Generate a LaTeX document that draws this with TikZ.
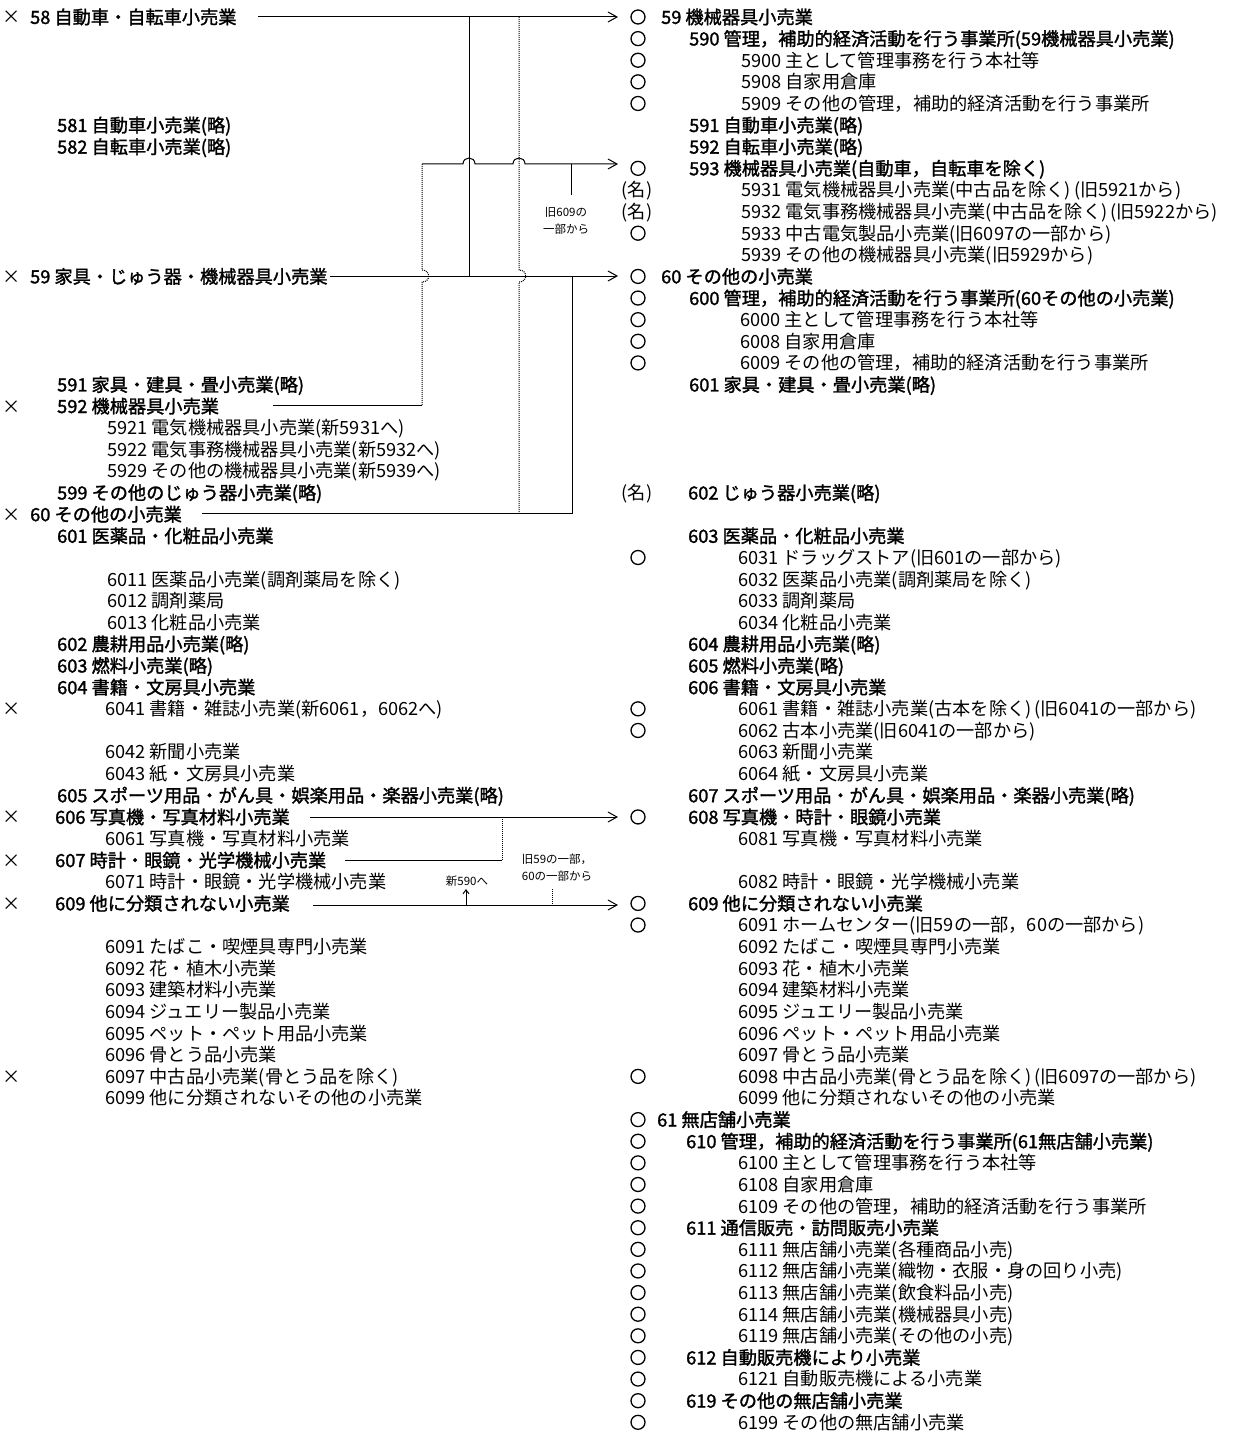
\documentclass[tikz,border=0pt]{standalone}
\usepackage{fontspec}
\setmainfont{Noto Sans CJK JP}
\newfontfamily\cjkbold{Noto Sans CJK JP}[FakeBold=1.6]
\usetikzlibrary{arrows.meta}
\newcommand\fsz{\fontsize{18.2pt}{22pt}\selectfont}
\newcommand\fsm{\fontsize{11.5pt}{13pt}\selectfont}
\newcommand\RT[5]{\node[#1] (#2) at (#3,{17+21.62*(#4)}) {#5};}
\newcommand\MC[2]{\node[mkc] (#1) at (638,{17+21.62*(#2)}) {};}
\newcommand\MN[2]{\node[mkn] (#1) at (637,{17+21.62*(#2)}) {(名)};}
\newcommand\MX[2]{\node[mkn] (#1) at (12,{17+21.62*(#2)}) {×};}
\tikzset{
 tx/.style={anchor=west, inner sep=0pt, font=\fsz, text height=16pt, text depth=2.2pt},
 hb/.style={tx, font=\fsz\cjkbold},
 mkc/.style={circle, draw, line width=1.3pt, minimum size=14pt, inner sep=0pt},
 mkn/.style={inner sep=0pt, font=\fsz, text height=16pt, text depth=2.2pt},
 sm/.style={inner sep=0pt, font=\fsm},
 ln/.style={line width=1pt},
 dl/.style={line width=1pt, densely dotted},
 arr/.style={-{Straight Barb[length=9pt,width=10pt]}},
}
\begin{document}
\begin{tikzpicture}[x=1pt,y=-1pt]
\useasboundingbox (0,0) rectangle (1244,1439);
% ---------- left column (old) ----------
\MX{x58}{0}\RT{hb}{L58}{30}{0}{58 自動車・自転車小売業}
\RT{hb}{L581}{57}{5}{581 自動車小売業(略)}
\RT{hb}{L582}{57}{6}{582 自転車小売業(略)}
\MX{x59}{12}\RT{hb}{L59}{30}{12}{59 家具・じゅう器・機械器具小売業}
\RT{hb}{L591}{57}{17}{591 家具・建具・畳小売業(略)}
\MX{x592}{18}\RT{hb}{L592}{57}{18}{592 機械器具小売業}
\RT{tx}{L5921}{107}{19}{5921 電気機械器具小売業(新5931へ)}
\RT{tx}{L5922}{107}{20}{5922 電気事務機械器具小売業(新5932へ)}
\RT{tx}{L5929}{107}{21}{5929 その他の機械器具小売業(新5939へ)}
\RT{hb}{L599}{57}{22}{599 その他のじゅう器小売業(略)}
\MX{x60}{23}\RT{hb}{L60}{30}{23}{60 その他の小売業}
\RT{hb}{L601}{57}{24}{601 医薬品・化粧品小売業}
\RT{tx}{L6011}{107}{26}{6011 医薬品小売業(調剤薬局を除く)}
\RT{tx}{L6012}{107}{27}{6012 調剤薬局}
\RT{tx}{L6013}{107}{28}{6013 化粧品小売業}
\RT{hb}{L602}{57}{29}{602 農耕用品小売業(略)}
\RT{hb}{L603}{57}{30}{603 燃料小売業(略)}
\RT{hb}{L604}{57}{31}{604 書籍・文房具小売業}
\MX{x6041}{32}\RT{tx}{L6041}{105}{32}{6041 書籍・雑誌小売業(新6061，6062へ)}
\RT{tx}{L6042}{105}{34}{6042 新聞小売業}
\RT{tx}{L6043}{105}{35}{6043 紙・文房具小売業}
\RT{hb}{L605}{57}{36}{605 スポーツ用品・がん具・娯楽用品・楽器小売業(略)}
\MX{x606}{37}\RT{hb}{L606}{55}{37}{606 写真機・写真材料小売業}
\RT{tx}{L6061}{105}{38}{6061 写真機・写真材料小売業}
\MX{x607}{39}\RT{hb}{L607}{55}{39}{607 時計・眼鏡・光学機械小売業}
\RT{tx}{L6071}{105}{40}{6071 時計・眼鏡・光学機械小売業}
\MX{x609}{41}\RT{hb}{L609}{55}{41}{609 他に分類されない小売業}
\RT{tx}{L6091}{105}{43}{6091 たばこ・喫煙具専門小売業}
\RT{tx}{L6092}{105}{44}{6092 花・植木小売業}
\RT{tx}{L6093}{105}{45}{6093 建築材料小売業}
\RT{tx}{L6094}{105}{46}{6094 ジュエリー製品小売業}
\RT{tx}{L6095}{105}{47}{6095 ペット・ペット用品小売業}
\RT{tx}{L6096}{105}{48}{6096 骨とう品小売業}
\MX{x6097}{49}\RT{tx}{L6097}{105}{49}{6097 中古品小売業(骨とう品を除く)}
\RT{tx}{L6099}{105}{50}{6099 他に分類されないその他の小売業}
% ---------- right column (new) ----------
\MC{m59}{0}\RT{hb}{R59}{661}{0}{59 機械器具小売業}
\MC{m590}{1}\RT{hb}{R590}{689}{1}{590 管理，補助的経済活動を行う事業所(59機械器具小売業)}
\MC{m5900}{2}\RT{tx}{R5900}{741}{2}{5900 主として管理事務を行う本社等}
\MC{m5908}{3}\RT{tx}{R5908}{741}{3}{5908 自家用倉庫}
\MC{m5909}{4}\RT{tx}{R5909}{741}{4}{5909 その他の管理，補助的経済活動を行う事業所}
\RT{hb}{R591}{689}{5}{591 自動車小売業(略)}
\RT{hb}{R592}{689}{6}{592 自転車小売業(略)}
\MC{m593}{7}\RT{hb}{R593}{689}{7}{593 機械器具小売業(自動車，自転車を除く)}
\MN{n5931}{8}\RT{tx}{R5931}{741}{8}{5931 電気機械器具小売業(中古品を除く)\,(旧5921から)}
\MN{n5932}{9}\RT{tx}{R5932}{741}{9}{5932 電気事務機械器具小売業(中古品を除く)\,(旧5922から)}
\MC{m5933}{10}\RT{tx}{R5933}{741}{10}{5933 中古電気製品小売業(旧6097の一部から)}
\RT{tx}{R5939}{741}{11}{5939 その他の機械器具小売業(旧5929から)}
\MC{m60}{12}\RT{hb}{R60}{661}{12}{60 その他の小売業}
\MC{m600}{13}\RT{hb}{R600}{689}{13}{600 管理，補助的経済活動を行う事業所(60その他の小売業)}
\MC{m6000}{14}\RT{tx}{R6000}{740}{14}{6000 主として管理事務を行う本社等}
\MC{m6008}{15}\RT{tx}{R6008}{740}{15}{6008 自家用倉庫}
\MC{m6009}{16}\RT{tx}{R6009}{740}{16}{6009 その他の管理，補助的経済活動を行う事業所}
\RT{hb}{R601}{689}{17}{601 家具・建具・畳小売業(略)}
\MN{n602}{22}\RT{hb}{R602}{688}{22}{602 じゅう器小売業(略)}
\RT{hb}{R603}{688}{24}{603 医薬品・化粧品小売業}
\MC{m6031}{25}\RT{tx}{R6031}{738}{25}{6031 ドラッグストア(旧601の一部から)}
\RT{tx}{R6032}{738}{26}{6032 医薬品小売業(調剤薬局を除く)}
\RT{tx}{R6033}{738}{27}{6033 調剤薬局}
\RT{tx}{R6034}{738}{28}{6034 化粧品小売業}
\RT{hb}{R604}{688}{29}{604 農耕用品小売業(略)}
\RT{hb}{R605}{688}{30}{605 燃料小売業(略)}
\RT{hb}{R606}{688}{31}{606 書籍・文房具小売業}
\MC{m6061}{32}\RT{tx}{R6061}{738}{32}{6061 書籍・雑誌小売業(古本を除く)\,(旧6041の一部から)}
\MC{m6062}{33}\RT{tx}{R6062}{738}{33}{6062 古本小売業(旧6041の一部から)}
\RT{tx}{R6063}{738}{34}{6063 新聞小売業}
\RT{tx}{R6064}{738}{35}{6064 紙・文房具小売業}
\RT{hb}{R607}{688}{36}{607 スポーツ用品・がん具・娯楽用品・楽器小売業(略)}
\MC{m608}{37}\RT{hb}{R608}{688}{37}{608 写真機・時計・眼鏡小売業}
\RT{tx}{R6081}{738}{38}{6081 写真機・写真材料小売業}
\RT{tx}{R6082}{738}{40}{6082 時計・眼鏡・光学機械小売業}
\MC{m609}{41}\RT{hb}{R609}{688}{41}{609 他に分類されない小売業}
\MC{m6091}{42}\RT{tx}{R6091}{738}{42}{6091 ホームセンター(旧59の一部，60の一部から)}
\RT{tx}{R6092}{738}{43}{6092 たばこ・喫煙具専門小売業}
\RT{tx}{R6093}{738}{44}{6093 花・植木小売業}
\RT{tx}{R6094}{738}{45}{6094 建築材料小売業}
\RT{tx}{R6095}{738}{46}{6095 ジュエリー製品小売業}
\RT{tx}{R6096}{738}{47}{6096 ペット・ペット用品小売業}
\RT{tx}{R6097}{738}{48}{6097 骨とう品小売業}
\MC{m6098}{49}\RT{tx}{R6098}{738}{49}{6098 中古品小売業(骨とう品を除く)\,(旧6097の一部から)}
\RT{tx}{R6099}{738}{50}{6099 他に分類されないその他の小売業}
\MC{m61}{51}\RT{hb}{R61}{657}{51}{61 無店舗小売業}
\MC{m610}{52}\RT{hb}{R610}{686}{52}{610 管理，補助的経済活動を行う事業所(61無店舗小売業)}
\MC{m6100}{53}\RT{tx}{R6100}{738}{53}{6100 主として管理事務を行う本社等}
\MC{m6108}{54}\RT{tx}{R6108}{738}{54}{6108 自家用倉庫}
\MC{m6109}{55}\RT{tx}{R6109}{738}{55}{6109 その他の管理，補助的経済活動を行う事業所}
\MC{m611}{56}\RT{hb}{R611}{686}{56}{611 通信販売・訪問販売小売業}
\MC{m6111}{57}\RT{tx}{R6111}{738}{57}{6111 無店舗小売業(各種商品小売)}
\MC{m6112}{58}\RT{tx}{R6112}{738}{58}{6112 無店舗小売業(織物・衣服・身の回り小売)}
\MC{m6113}{59}\RT{tx}{R6113}{738}{59}{6113 無店舗小売業(飲食料品小売)}
\MC{m6114}{60}\RT{tx}{R6114}{738}{60}{6114 無店舗小売業(機械器具小売)}
\MC{m6119}{61}\RT{tx}{R6119}{738}{61}{6119 無店舗小売業(その他の小売)}
\MC{m612}{62}\RT{hb}{R612}{686}{62}{612 自動販売機により小売業}
\MC{m6121}{63}\RT{tx}{R6121}{738}{63}{6121 自動販売機による小売業}
\MC{m619}{64}\RT{hb}{R619}{686}{64}{619 その他の無店舗小売業}
\MC{m6199}{65}\RT{tx}{R6199}{738}{65}{6199 その他の無店舗小売業}
% ---------- connectors ----------
\coordinate (s58) at (258,17);
\coordinate (e58) at (618,17);
\draw[ln,arr] (s58) -- (e58);
\coordinate (s592) at (273,405);
\coordinate (c592) at (422,405);
\coordinate (c593) at (422,164);
\coordinate (e593) at (618,164);
\draw[ln] (s592) -- (c592);
\draw[dl] (c592) -- (422,282) .. controls (431,282) and (431,270) .. (422,270) -- (c593);
\draw[ln,arr] (c593) -- (463,164) .. controls (463,156) and (475,156) .. (475,164) -- (513,164) .. controls (513,156) and (525,156) .. (525,164) -- (e593);
\coordinate (s59) at (330,276);
\coordinate (e59) at (618,276);
\draw[ln,arr] (s59) -- (e59);
\coordinate (j469t) at (469,17);
\coordinate (j469b) at (469,276);
\draw[ln] (j469t) -- (j469b);
\coordinate (j519t) at (519,17);
\coordinate (j519b) at (519,513);
\draw[dl] (j519t) -- (519,270) .. controls (528,270) and (528,282) .. (519,282) -- (j519b);
\coordinate (s60) at (202,513);
\coordinate (c60) at (572,513);
\coordinate (e60) at (572,276);
\draw[ln] (s60) -- (c60) -- (e60);
\coordinate (a609t) at (571,164);
\coordinate (a609b) at (571,195);
\draw[ln] (a609t) -- (a609b);
\node[sm] (n609a) at (566,212) {旧609の};
\node[sm] (n609b) at (566,229) {一部から};
\coordinate (s606) at (310,817);
\coordinate (e606) at (618,817);
\draw[ln,arr] (s606) -- (e606);
\coordinate (s607) at (345,860);
\coordinate (c607) at (502,860);
\coordinate (e607) at (502,817);
\draw[ln] (s607) -- (c607);
\draw[dl] (c607) -- (e607);
\coordinate (s609) at (313,905);
\coordinate (e609) at (618,905);
\draw[ln,arr] (s609) -- (e609);
\coordinate (u590b) at (466,905);
\coordinate (u590t) at (466,889);
\draw[ln,-{Straight Barb[length=4pt,width=6pt]}] (u590b) -- (u590t);
\node[sm] (n590) at (467,881) {新590へ};
\node[sm] (n59a) at (557,859) {旧59の一部，};
\node[sm] (n59b) at (557,876) {60の一部から};
\coordinate (d59t) at (552,889);
\coordinate (d59b) at (552,905);
\draw[dl] (d59t) -- (d59b);
\end{tikzpicture}
\end{document}
